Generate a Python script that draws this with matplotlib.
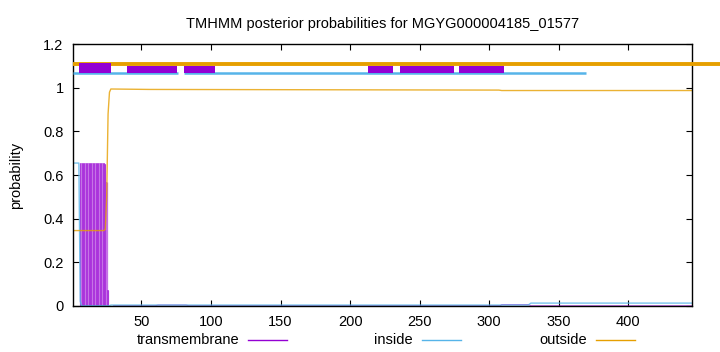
import matplotlib
matplotlib.use("Agg")
import matplotlib.pyplot as plt
from matplotlib.lines import Line2D
from matplotlib.patches import Rectangle

plt.rcParams['font.family'] = ['Liberation Sans', 'DejaVu Sans']

seq_len = 446
title = "TMHMM posterior probabilities for MGYG000004185_01577"

# per-residue transmembrane impulses near the N-terminus
tm_res = list(range(1, 31))
tm_val = [0, 0, 0, 0, 0, 0.655, 0.655, 0.655, 0.655, 0.655,
          0.655, 0.655, 0.655, 0.655, 0.655, 0.655, 0.655, 0.655, 0.655, 0.655,
          0.655, 0.655, 0.655, 0.65, 0.57, 0.07, 0, 0, 0, 0]
# low-level transmembrane trace for the rest
tm_x = [30, 60, 62, 82, 84, 308, 309, 328, 330, 446]
tm_y = [0, 0, 0.003, 0.003, 0, 0, 0.005, 0.005, 0, 0]

inside_x = [1, 5, 6, 7, 27, 28, 328, 330, 446]
inside_y = [0.655, 0.655, 0.02, 0.0, 0.0, 0.003, 0.003, 0.012, 0.012]

outside_x = [1, 23, 24, 25, 26, 27, 28, 56, 307, 309, 446]
outside_y = [0.345, 0.345, 0.35, 0.5, 0.88, 0.98, 0.995, 0.993, 0.99, 0.988, 0.988]

# predicted topology bar at the top
tm_start = [5.1, 39.9, 80.6, 213, 236, 278.5]
tm_end = [28.4, 75.9, 103, 231, 275, 310.4]
tm_top = [1.113, 1.10, 1.10, 1.10, 1.10, 1.10]
inside_seg = [(1, 76), (80.6, 369.4)]
outside_seg = [(1, 466)]

purple = '#9400D3'
blue = '#56B4E9'
orange = '#E69F00'

fig = plt.figure(figsize=(7.2, 3.52), dpi=100)
ax = fig.add_axes([0.1018, 0.1315, 0.8597, 0.7425])

# posterior curves
ax.fill_between(tm_res, 0, tm_val, step='mid', color='#cf86ea', lw=0)
ax.vlines(tm_res, 0, tm_val, color=purple, lw=0.9, alpha=0.55)
ax.plot(tm_x, tm_y, color=purple, lw=0.8, alpha=0.6)
ax.plot(inside_x, inside_y, color=blue, lw=1.0, alpha=0.8)
ax.plot(outside_x, outside_y, color=orange, lw=1.0, alpha=0.8)

# topology line
for a, b in outside_seg:
    ax.plot([a, b], [1.11, 1.11], color=orange, lw=2.8, clip_on=False,
            solid_capstyle='butt', zorder=3)
for a, b in inside_seg:
    ax.plot([a, b], [1.07, 1.07], color=blue, lw=1.8,
            solid_capstyle='butt', zorder=3)
for s, e, t in zip(tm_start, tm_end, tm_top):
    ax.add_patch(Rectangle((s, 1.067), e - s, t - 1.067, facecolor=purple,
                           edgecolor='none', zorder=4))

ax.set_xlim(1, seq_len)
ax.set_ylim(0, 1.2)
ax.set_xticks([50, 100, 150, 200, 250, 300, 350, 400])
ax.set_yticks([0, 0.2, 0.4, 0.6, 0.8, 1.0, 1.2])
ax.set_yticklabels(['0', '0.2', '0.4', '0.6', '0.8', '1', '1.2'])
ax.tick_params(direction='in', length=4, width=0.8, top=True, right=True,
               labelsize=10.5, pad=7)
for sp in ax.spines.values():
    sp.set_linewidth(1.0)

ax.set_title(title, fontsize=10.5, pad=12)
fig.text(16 / 720, 1 - 175 / 352, 'probability', rotation=90,
         ha='center', va='center', fontsize=10.5)

# legend in gnuplot style below the axis
keys = [('transmembrane', purple, 239, 247.7, 286.7),
        ('inside', blue, 412.7, 422.3, 460.7),
        ('outside', orange, 586.7, 596, 635)]
ly = 1 - 340 / 352
for label, c, tx, l0, l1 in keys:
    fig.text(tx / 720, ly, label, ha='right', va='center', fontsize=10.5)
    fig.add_artist(Line2D([l0 / 720, l1 / 720], [ly, ly], color=c, lw=1.0,
                          transform=fig.transFigure))

fig.savefig('out.png', dpi=100)
